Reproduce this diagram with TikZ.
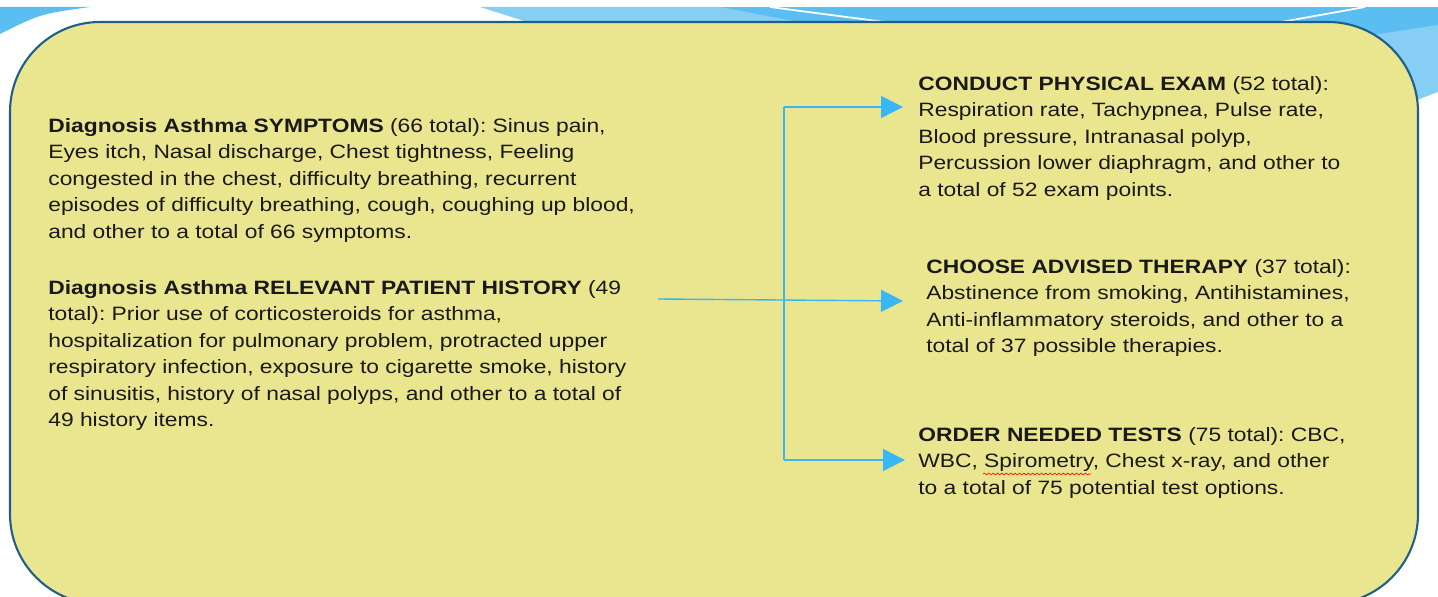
\documentclass[tikz,border=0pt]{standalone}
\usepackage{fontspec}
\setmainfont[FakeStretch=1.18]{Liberation Sans}
\usetikzlibrary{arrows.meta,positioning,decorations.pathmorphing}
\definecolor{slideblue}{RGB}{91,190,242}
\definecolor{paleblue}{RGB}{135,206,245}
\definecolor{boxfill}{RGB}{234,230,143}
\definecolor{boxline}{RGB}{31,95,138}
\definecolor{arrowblue}{RGB}{56,182,245}
\definecolor{textgray}{RGB}{25,25,25}
\frenchspacing
\newcommand\bodyfont{\fontsize{11}{15.08}\selectfont}
\tikzset
{
    infotext/.style = {anchor=north west, align=left, inner sep=0pt, font=\bodyfont, text=textgray},
    slidebox/.style = {draw=boxline, line width=1.2pt, fill=boxfill, rounded corners=1.8cm},
    feed/.style     = {draw=arrowblue, line width=0.8pt},
    arrow/.style    = {feed, -{Triangle[length=0.44cm,width=0.44cm]}},
    spellmark/.style = {draw=red, line width=0.35pt, decorate, decoration={snake, amplitude=0.5pt, segment length=2.5pt}}
}

\begin{document}
\begin{tikzpicture}[x=0.02cm, y=-0.02cm]
   \useasboundingbox (0,0) rectangle (1438,597);
   \clip (0,0) rectangle (1438,597);

   % slide background band
   \fill[slideblue] (700,7) rectangle (1438,80);
   \fill[paleblue]  (480,7) -- (720,7) -- (820,26) -- (540,26) -- cycle;
   \fill[paleblue]  (1360,37) -- (1438,25) -- (1438,92) -- (1417,100) -- (1360,100) -- cycle;
   \fill[slideblue] (0,7) -- (90,7) .. controls (40,14) .. (0,34) -- cycle;
   \draw[white, line width=1pt] (770,7) -- (900,24);
   \draw[white, line width=1pt] (1270,24) -- (1365,7);

   % main box
   \draw[slidebox] (10,22) rectangle (1418,604);

   \node (symptoms)	[infotext]	at (48,118)	{\textbf{Diagnosis Asthma SYMPTOMS} (66 total): Sinus pain,\\ Eyes itch, Nasal discharge, Chest tightness, Feeling\\ congested in the chest, difficulty breathing, recurrent\\ episodes of difficulty breathing, cough, coughing up blood,\\ and other to a total of 66 symptoms.};
   \node (history)	[infotext]	at (48,280)	{\textbf{Diagnosis Asthma RELEVANT PATIENT HISTORY} (49\\ total): Prior use of corticosteroids for asthma,\\ hospitalization for pulmonary problem, protracted upper\\ respiratory infection, exposure to cigarette smoke, history\\ of sinusitis, history of nasal polyps, and other to a total of\\ 49 history items.};
   \node (exam)	[infotext]	at (918,76)	{\textbf{CONDUCT PHYSICAL EXAM} (52 total):\\ Respiration rate, Tachypnea, Pulse rate,\\ Blood pressure, Intranasal polyp,\\ Percussion lower diaphragm, and other to\\ a total of 52 exam points.};
   \node (therapy)	[infotext]	at (926,259)	{\textbf{CHOOSE ADVISED THERAPY} (37 total):\\ Abstinence from smoking, Antihistamines,\\ Anti-inflammatory steroids, and other to a\\ total of 37 possible therapies.};
   \node (tests)	[infotext]	at (918,427)	{\textbf{ORDER NEEDED TESTS} (75 total): CBC,\\ WBC, Spirometry, Chest x-ray, and other\\ to a total of 75 potential test options.};

   \draw[spellmark] (983,474) -- (1091,474);

   \coordinate (histout)   at (658,299);
   \coordinate (splittop)  at (784,107);
   \coordinate (splitbot)  at (784,460);
   \coordinate (examin)    at (903,107);
   \coordinate (therapyin) at (903,301);
   \coordinate (testsin)   at (905,460);

   \path
      (histout)  edge[arrow] (therapyin)
      (splittop) edge[feed]  (splitbot)
      (splittop) edge[arrow] (examin)
      (splitbot) edge[arrow] (testsin);
\end{tikzpicture}
\end{document}
